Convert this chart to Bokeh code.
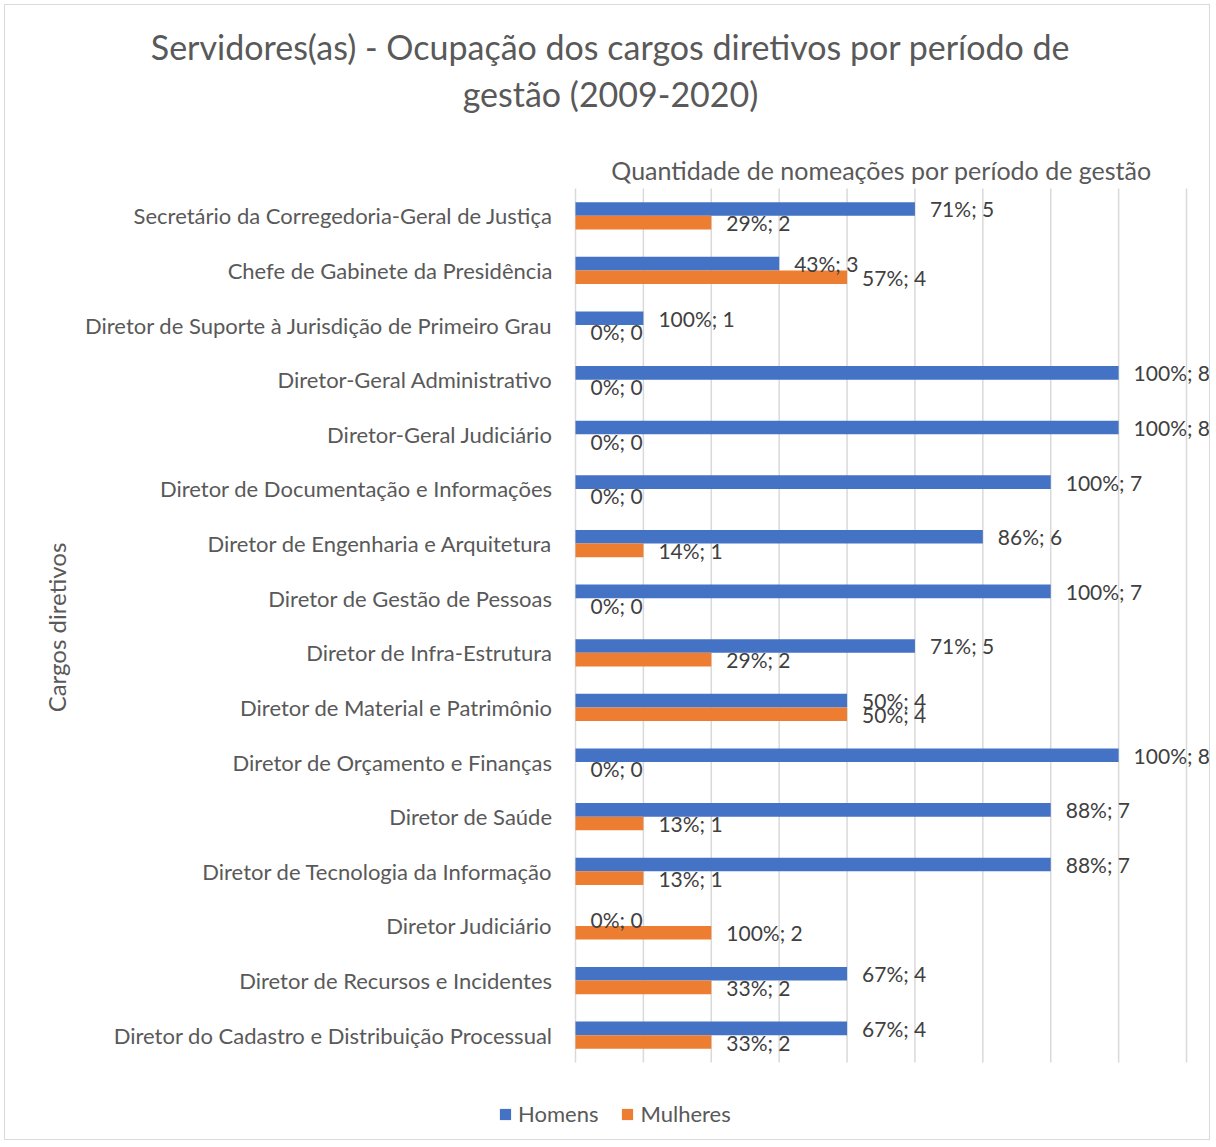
import math
from bokeh.plotting import figure
from bokeh.models import (Range1d, ColumnDataSource, LabelSet, Label, Legend,
                          LegendItem)
from bokeh.core.properties import value
from bokeh.embed import file_html
from bokeh.resources import INLINE

categories = [
    "Secretário da Corregedoria-Geral de Justiça",
    "Chefe de Gabinete da Presidência",
    "Diretor de Suporte à Jurisdição de Primeiro Grau",
    "Diretor-Geral Administrativo",
    "Diretor-Geral Judiciário",
    "Diretor de Documentação e Informações",
    "Diretor de Engenharia e Arquitetura",
    "Diretor de Gestão de Pessoas",
    "Diretor de Infra-Estrutura",
    "Diretor de Material e Patrimônio",
    "Diretor de Orçamento e Finanças",
    "Diretor de Saúde",
    "Diretor de Tecnologia da Informação",
    "Diretor Judiciário",
    "Diretor de Recursos e Incidentes",
    "Diretor do Cadastro e Distribuição Processual",
]
homens = [5, 3, 1, 8, 8, 7, 6, 7, 5, 4, 8, 7, 7, 0, 4, 4]
mulheres = [2, 4, 0, 0, 0, 0, 1, 0, 2, 4, 0, 1, 1, 2, 2, 2]
homens_pct = ["71%", "43%", "100%", "100%", "100%", "100%", "86%", "100%",
              "71%", "50%", "100%", "88%", "88%", "0%", "67%", "67%"]
mulheres_pct = ["29%", "57%", "0%", "0%", "0%", "0%", "14%", "0%",
                "29%", "50%", "0%", "13%", "13%", "100%", "33%", "33%"]
series_names = ["Homens", "Mulheres"]
title_lines = ["Servidores(as) - Ocupação dos cargos diretivos por período de",
               "gestão (2009-2020)"]
x_title = "Quantidade de nomeações por período de gestão"
y_title = "Cargos diretivos"
x_ticks = list(range(0, 10))

BLUE = "#4472C4"
ORANGE = "#ED7D31"
FONT = "Lato"
GREY_TXT = "#595959"

# ---- layout (canvas pixels) ----
W, H = 1206, 1136
PLOT_L, PLOT_R = 570, 1181     # pixel span of the 0..9 value axis
PLOT_T, PLOT_B = 183, 1057     # pixel span of the category band
n = len(categories)
SX = (PLOT_R - PLOT_L) / x_ticks[-1]
SY = (PLOT_B - PLOT_T) / n


def px_x(px):
    return (px - PLOT_L) / SX


def px_y(py):
    return (PLOT_B - py) / SY


ypos = [n - i - 0.5 for i in range(n)]
src = ColumnDataSource(dict(
    cat=categories,
    y=ypos,
    yh=[v + 0.125 for v in ypos],
    ym=[v - 0.125 for v in ypos],
    homens=homens,
    mulheres=mulheres,
    h_label=[f"{p}; {v}" for p, v in zip(homens_pct, homens)],
    m_label=[f"{p}; {v}" for p, v in zip(mulheres_pct, mulheres)],
))

p = figure(
    width=W, height=H,
    x_range=Range1d(px_x(0), px_x(W)),
    y_range=Range1d(px_y(H), px_y(0)),
    x_axis_location=None, y_axis_location=None,
    title=None, output_backend="svg", toolbar_location=None,
    min_border=0,
)
p.styles = {"border": "1px solid #d9d9d9", "margin": "4px"}
p.outline_line_color = None
p.background_fill_color = "white"
p.border_fill_color = "white"
p.grid.visible = False

# vertical gridlines over the category band
p.segment(x0=x_ticks, x1=x_ticks, y0=[0] * len(x_ticks), y1=[n] * len(x_ticks),
          line_color="#d9d9d9", line_width=1.5)

r1 = p.hbar(y="yh", right="homens", left=0, height=0.25, source=src,
            fill_color=BLUE, line_color=None)
r2 = p.hbar(y="ym", right="mulheres", left=0, height=0.25, source=src,
            fill_color=ORANGE, line_color=None)

# category labels
p.add_layout(LabelSet(x=0, y="y", text="cat", source=src, x_offset=-23,
                      text_align="right", text_baseline="middle",
                      text_font=value(FONT), text_font_size=value("22px"),
                      text_color=GREY_TXT))

# data labels
for col, ycol, lab in (("homens", "yh", "h_label"), ("mulheres", "ym", "m_label")):
    p.add_layout(LabelSet(x=col, y=ycol, text=lab, source=src,
                          x_offset=15, text_baseline="middle", text_align="left",
                          text_font=value(FONT), text_font_size=value("21px"),
                          text_color="#404040"))

# titles
p.add_layout(Label(x=px_x(605), y=px_y(41), text=title_lines[0], text_align="center",
                   text_baseline="middle", text_font=FONT, text_font_size="34px",
                   text_color=GREY_TXT))
p.add_layout(Label(x=px_x(605), y=px_y(88), text=title_lines[1], text_align="center",
                   text_baseline="middle", text_font=FONT, text_font_size="34px",
                   text_color=GREY_TXT))
p.add_layout(Label(x=px_x(876), y=px_y(164), text=x_title, text_align="center",
                   text_baseline="middle", text_font=FONT, text_font_size="25px",
                   text_color=GREY_TXT))
p.add_layout(Label(x=px_x(51), y=px_y(622), text=y_title, text_align="center",
                   text_baseline="middle", angle=math.pi / 2, text_font=FONT,
                   text_font_size="24px", text_color=GREY_TXT))

legend = Legend(items=[LegendItem(label=series_names[0], renderers=[r1]),
                       LegendItem(label=series_names[1], renderers=[r2])],
                orientation="horizontal", location=(493, 14),
                glyph_width=14, glyph_height=14, label_height=14,
                label_standoff=6, spacing=22, padding=0, margin=0,
                border_line_color=None, background_fill_alpha=0,
                label_text_font=FONT, label_text_font_size="22px",
                label_text_color=GREY_TXT)
p.add_layout(legend)

open("out.html", "w").write(file_html(p, INLINE))
